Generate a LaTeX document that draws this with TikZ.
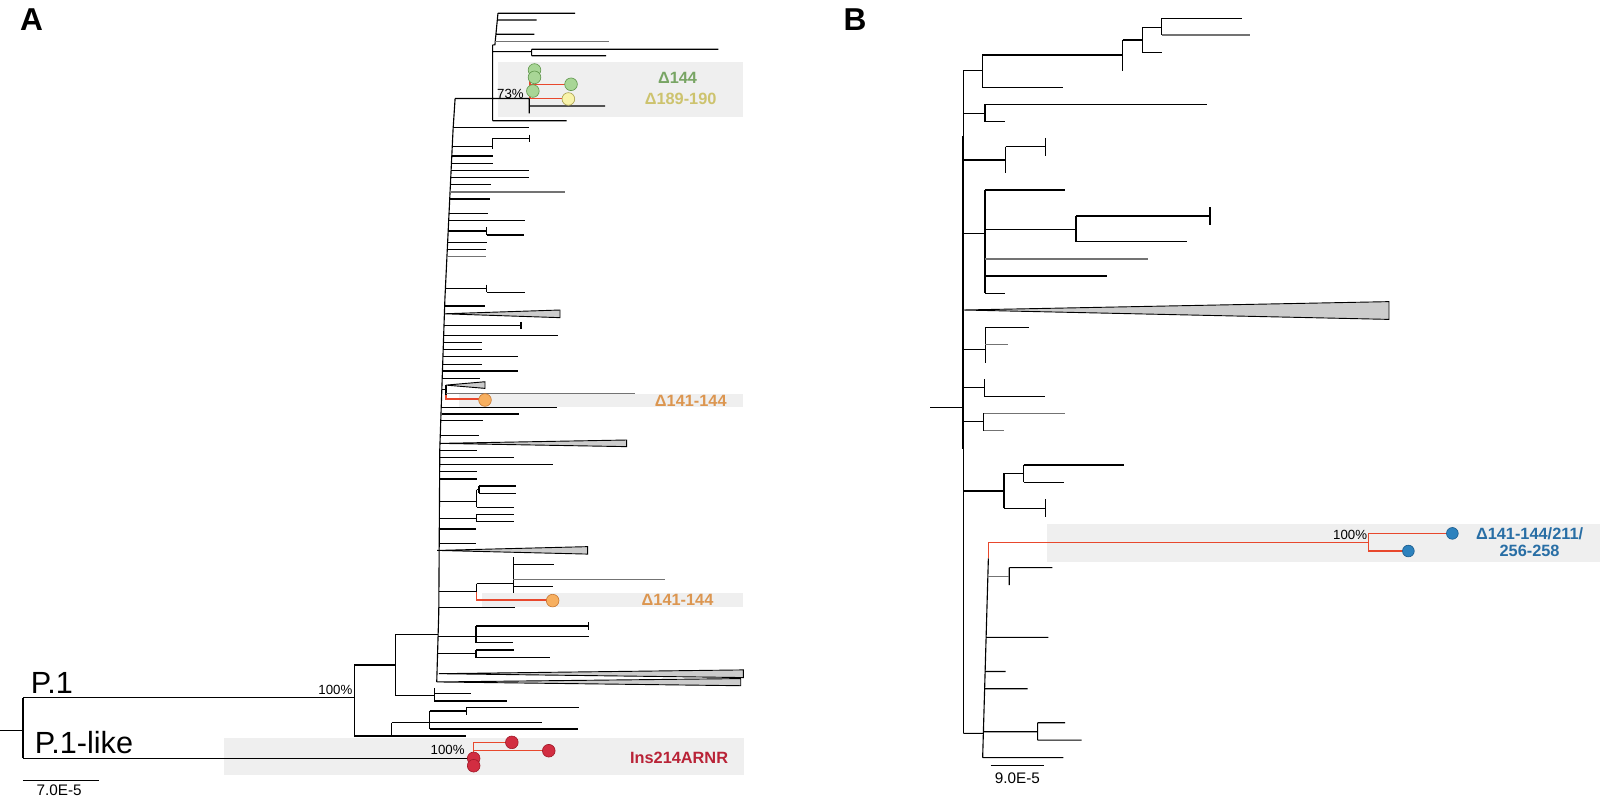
\documentclass[tikz,border=0pt]{standalone}
\usepackage{fontspec}
\setmainfont{Liberation Sans}
\definecolor{redline}{RGB}{232,72,45}
\definecolor{hlgray}{RGB}{239,239,239}
\definecolor{trifill}{RGB}{204,204,204}
\definecolor{gfill}{RGB}{168,214,150}
\definecolor{gedge}{RGB}{95,150,75}
\definecolor{gtext}{RGB}{120,165,100}
\definecolor{yfill}{RGB}{248,243,170}
\definecolor{yedge}{RGB}{170,160,80}
\definecolor{ytext}{RGB}{205,195,110}
\definecolor{ofill}{RGB}{247,175,95}
\definecolor{oedge}{RGB}{200,120,50}
\definecolor{otext}{RGB}{220,150,80}
\definecolor{rfill}{RGB}{210,45,65}
\definecolor{redge}{RGB}{160,25,40}
\definecolor{rtext}{RGB}{185,35,55}
\definecolor{bfill}{RGB}{45,130,190}
\definecolor{bedge}{RGB}{25,90,140}
\definecolor{btext}{RGB}{40,110,165}
\begin{document}
\begin{tikzpicture}[x=1pt,y=-1pt,
  br/.style={draw=black,line width=1.1pt},
  gbr/.style={draw=black!55,line width=1.1pt},
  rbr/.style={draw=redline,line width=1.1pt},
  tri/.style={draw=black,fill=trifill,line width=0.9pt},
  hl/.style={fill=hlgray},
  dot/.style={circle,inner sep=0pt,minimum size=12.4pt,line width=0.6pt},
  dotg/.style={dot,draw=gedge,fill=gfill},
  doty/.style={dot,draw=yedge,fill=yfill},
  doto/.style={dot,draw=oedge,fill=ofill},
  dotr/.style={dot,draw=redge,fill=rfill},
  dotb/.style={dot,draw=bedge,fill=bfill,minimum size=11.5pt},
  mut/.style={font=\fontsize{16}{18}\selectfont\bfseries,inner sep=0pt},
  pct/.style={font=\fontsize{13}{14}\selectfont,inner sep=0pt},
  big/.style={font=\fontsize{30}{31}\selectfont,inner sep=0pt},
  panel/.style={font=\fontsize{31}{31}\selectfont\bfseries,inner sep=0pt},
  sc/.style={font=\fontsize{15}{16}\selectfont,inner sep=0pt}]
\useasboundingbox (0,0) rectangle (1568,785);
\fill[white] (0,0) rectangle (1568,785);

% highlight boxes
\fill[hl] (487.7,60.4) rectangle (728.5,115);
\fill[hl] (450.1,386.5) rectangle (728.5,398.8);
\fill[hl] (472,581.5) rectangle (728.5,594.5);
\fill[hl] (220,723.6) rectangle (729,759.5);
\fill[hl] (1025.7,513.5) rectangle (1568,551);

% ================= Panel A =================
% basal
\draw[br] (0,716)--(22.5,716) (22.5,683.6)--(22.5,743.2) (22.5,683.6)--(347,683.6) (22.5,743.2)--(464,743.2);
\draw[br] (347,651.7)--(347,721.3) (347,651.7)--(388,651.7) (388,621.6)--(388,681.8) (388,621.6)--(429,621.6)
  (388,681.8)--(425.7,681.8) (425.7,674)--(425.7,687) (425.7,679.5)--(461.8,679.5) (425.7,687)--(497,687);
\draw[br] (347,721.3)--(457,721.3) (384,708.2)--(384,721.3) (384,708.2)--(421,708.2) (421,696.8)--(421,714.4)
  (421,696.8)--(457,696.8) (457,693.5)--(457,700.7) (457,693.5)--(567.4,693.5) (421,707.9)--(531,707.9) (421,714.4)--(566,714.4);

% backbone of main clade
\draw[br] (446,96.5)--(444,127)--(436,293)--(431,440)--(430,600)--(428,668.3);

% top group
\draw[br] (446,96.5)--(482.8,96.5) (482.8,44)--(482.8,118.3) (482.8,118.3)--(555.3,118.3)
  (482.8,44)--(485.5,44) (488,13)--(485,44) (488,13)--(563.5,13) (487.5,19.6)--(526,19.6) (486,33.6)--(523.7,33.6)
  (482.8,50.6)--(521,50.6) (521,48.3)--(521,54.6) (521,48.3)--(704,48.3) (521,54.6)--(594,54.6)
  (482.8,96.5)--(518.7,96.5) (518.7,96.5)--(518.7,111) (518.7,103.9)--(592.9,103.9);
\draw[gbr] (485,40.8)--(597.2,40.8);
\draw[rbr] (519.4,68.6)--(519.4,96.5) (519.4,82.6)--(555.3,82.6) (519.4,96.5)--(553.7,96.5);

% leaves along backbone
\draw[br] (445,124.8)--(518.7,124.8)
  (443.5,143.7)--(482.8,143.7) (482.8,135.6)--(482.8,146.3) (482.8,135.6)--(518.7,135.6) (518.7,132)--(518.7,139)
  (442.8,152.9)--(483.5,152.9) (442.4,160.1)--(483.5,160.1) (442.1,166.9)--(518.7,166.9) (441.7,174.1)--(518,174.1)
  (441.4,181)--(481.2,181) (440.7,195)--(480.2,195) (440,209)--(477.9,209) (439.7,216.3)--(514.5,216.3)
  (439.2,226.4)--(476.9,226.4) (476.9,222.5)--(476.9,230.3) (476.9,230.3)--(513.5,230.3)
  (438.7,237.5)--(476.9,237.5) (438.4,244.3)--(475.9,244.3)
  (436.5,282.6)--(476.9,282.6) (476.9,279)--(476.9,286.5) (476.9,286.5)--(514.5,286.5)
  (435.8,299.9)--(475.3,299.9)
  (435.1,318.6)--(510.6,318.6) (510.6,315.5)--(510.6,322)
  (434.8,328.6)--(547.2,328.6) (434.5,335.5)--(472.7,335.5) (434.3,342.7)--(472,342.7) (434,349.5)--(508,349.5)
  (433.8,356.8)--(472,356.8) (433.6,363.6)--(508,363.6) (433.3,370.8)--(470.4,370.8)
  (433.1,382)--(437.1,382) (437.1,377.4)--(437.1,386.9)
  (433,399.2)--(546.2,399.2) (432.8,405.7)--(509,405.7) (432.5,412.5)--(473,412.5) (431.5,426.6)--(469.7,426.6)
  (431,441.1)--(467,441.1) (430.8,448.4)--(503.7,448.4) (430.7,455)--(541.6,455) (430.6,462.2)--(467.1,462.2) (430.5,469.4)--(467.1,469.4)
  (430.3,491.6)--(467.1,491.6) (467.1,480)--(467.1,497.2) (467.1,480)--(469.4,480) (469.4,476.3)--(469.4,483.5)
  (469.4,476.3)--(505.7,476.3) (469.4,483.5)--(505.7,483.5) (467.1,497.2)--(503.7,497.2)
  (430.2,508)--(467.1,508) (467.1,504.1)--(467.1,511.2) (467.1,504.1)--(503.7,504.1) (467.1,511.2)--(503.7,511.2)
  (430,518.4)--(466.5,518.4) (430,532.5)--(466.5,532.5)
  (430,579.8)--(467.1,579.8) (467.1,572)--(467.1,579.8) (467.1,572)--(503.1,572) (503.1,546.2)--(503.1,581.5)
  (503.1,553.1)--(543.2,553.1) (503.1,574.4)--(541.6,574.4)
  (430,595.3)--(504.7,595.3)
  (429.5,623.5)--(577.2,623.5) (466.5,613.5)--(466.5,629.8) (466.5,613.5)--(576.6,613.5) (576.6,610)--(576.6,617) (466.5,629.8)--(503.1,629.8)
  (429,640.5)--(466.5,640.5) (466.5,637)--(466.5,644.5) (466.5,637)--(503.8,637) (466.5,644.5)--(539,644.5);
\draw[gbr] (441,188.1)--(553.7,188.1) (438,251.5)--(475.9,251.5) (437.1,385.5)--(622.3,385.5) (503.1,567.5)--(651.7,567.5);
\draw[rbr] (437.1,386.9)--(437.1,391)--(470,391) (467.1,579.8)--(467.1,588)--(536,588);
\draw[rbr] (464,727.5)--(464,743.2) (464,727.5)--(501.6,727.5) (464,735.7)--(537.8,735.7);

% collapsed clades
\draw[tri] (435.5,307.5)--(548.8,303.8)--(548.8,311.3)--cycle;
\draw[tri] (437.1,377.4)--(475.3,374.1)--(475.3,380.6)--cycle;
\draw[tri] (431.2,434.5)--(614.1,431.2)--(614.1,437.7)--cycle;
\draw[tri] (428.5,539.4)--(575.9,535.7)--(575.9,543)--cycle;
\draw[tri] (430,660.2)--(728.5,656.5)--(728.5,664)--cycle;
\draw[tri] (428,668.3)--(725.9,665)--(725.9,672)--cycle;

% tip circles A
\node[dotg] (g1) at (523.8,68.6) {};
\node[dotg] (g2) at (523.8,75.8) {};
\node[dotg] (g3) at (522.2,89.2) {};
\node[dotg] (g4) at (559.6,82.6) {};
\node[doty] (y1) at (557,97) {};
\node[doto] (o1) at (475.3,392) {};
\node[doto] (o2) at (541.6,588.6) {};
\node[dotr] (r1) at (501.6,727.5) {};
\node[dotr] (r2) at (537.8,735.7) {};
\node[dotr] (r3) at (464.2,743.2) {};
\node[dotr] (r4) at (464.2,750.4) {};

% labels A
\node[panel] (la) at (31,19.5) {A};
\node[mut,text=gtext] (t1) at (664,76) {Δ144};
\node[mut,text=ytext] (t2) at (667,97) {Δ189-190};
\node[mut,text=otext] (t3) at (677,392.9) {Δ141-144};
\node[mut,text=otext] (t4) at (664,588) {Δ141-144};
\node[mut,text=rtext] (t5) at (665.5,743) {Ins214ARNR};
\node[pct,anchor=east] (p1) at (513.5,92) {73\%};
\node[pct,anchor=east] (p2) at (345.5,676.5) {100\%};
\node[pct,anchor=east] (p3) at (455.5,735) {100\%};
\node[big,anchor=base west] (n1) at (30,679.5) {P.1};
\node[big,anchor=base west] (n2) at (34,738.5) {P.1-like};
\draw[br] (22.5,765)--(97.5,765);
\node[sc] (s1) at (58,774) {7.0E-5};

% ================= Panel B =================
\draw[br] (911.8,399.5)--(944,399.5) (944,69.3)--(944,718.7);
\draw[line width=1.6pt] (944,133)--(944,440);
% top clade
\draw[br] (944,69.3)--(962.7,69.3) (962.7,53.9)--(962.7,85.6) (962.7,85.6)--(1042,85.6) (962.7,53.9)--(1100.2,53.9)
  (1100.2,39.2)--(1100.2,69.3) (1100.2,39.2)--(1119.5,39.2) (1119.5,26.8)--(1119.5,51.3) (1119.5,51.3)--(1138.4,51.3)
  (1119.5,26.8)--(1138.4,26.8) (1138.4,18)--(1138.4,34.3) (1138.4,18)--(1216.8,18);
\draw[gbr] (1138.4,34.3)--(1225,34.3);
\draw[br] (944,111.1)--(965.3,111.1) (965.3,102.2)--(965.3,119.2) (965.3,102.2)--(1182.5,102.2) (965.3,119.2)--(984.9,119.2);
\draw[br] (944,156.8)--(985.5,156.8) (985.5,143.7)--(985.5,169.9) (985.5,143.7)--(1024.8,143.7) (1024.8,135)--(1024.8,153);
\draw[br] (944,228.7)--(965.3,228.7) (965.3,186.2)--(965.3,287.5) (965.3,186.2)--(1043.7,186.2)
  (965.3,224.6)--(1054.5,224.6) (1054.5,211.7)--(1054.5,236.8) (1054.5,211.7)--(1185.8,211.7) (1185.8,203.3)--(1185.8,220.5)
  (1054.5,236.8)--(1163.6,236.8) (965.3,270.5)--(1084.5,270.5) (965.3,287.5)--(984.9,287.5);
\draw[gbr] (965.3,253.8)--(1125.3,253.8);
\draw[tri] (944,303.8)--(1361.2,295.6)--(1361.2,313)--cycle;
\draw[br] (944,342.4)--(965.5,342.4) (965.5,321.1)--(965.5,355.4) (965.5,321.1)--(1008.7,321.1);
\draw[gbr] (965.5,338)--(988,338);
\draw[br] (944,379.6)--(965.1,379.6) (965.1,371.8)--(965.1,388.7) (965.1,388.7)--(1024.2,388.7);
\draw[br] (944,413.4)--(964.2,413.4) (964.2,405.1)--(964.2,422.2);
\draw[gbr] (964.2,405.1)--(1043.9,405.1) (964.2,422.2)--(983.9,422.2);
\draw[br] (944,481.2)--(983.9,481.2) (983.9,463.9)--(983.9,498.2) (983.9,463.9)--(1003.2,463.9)
  (1003.2,455.7)--(1003.2,472.7) (1003.2,455.7)--(1101.6,455.7) (1003.2,472.7)--(1043,472.7)
  (983.9,498.2)--(1024.2,498.2) (1024.2,489.4)--(1024.2,506.5);
% bottom clade
\draw[br] (944,718.7)--(963,718.7) (968.6,547.2)--(963,742.5)
  (966.7,624.6)--(1027.3,624.6) (965.8,658)--(985.6,658) (965.3,675)--(1007.1,675)
  (963.5,717.1)--(1016.9,717.1) (1016.9,708.3)--(1016.9,725.3) (1016.9,708.3)--(1043.7,708.3) (1016.9,725.3)--(1060.1,725.3)
  (963,742.5)--(1042,742.5) (989.1,556.3)--(989.1,573.3) (989.1,556.3)--(1031.3,556.3);
\draw[gbr] (968,565.1)--(989.1,565.1);
\draw[rbr] (968.6,547.2)--(968.6,531.6)--(1341,531.6) (1341,522.7)--(1341,540) (1341,522.7)--(1417.7,522.7) (1341,540)--(1375.9,540);
\node[dotb] (b1) at (1423.3,522.7) {};
\node[dotb] (b2) at (1380.2,540) {};
\node[pct,anchor=east] (p4) at (1340,524) {100\%};
\node[mut,text=btext,align=center,font=\fontsize{16}{17}\selectfont\bfseries] (t6) at (1499,531.5) {Δ141-144/211/\\256-258};
\node[panel] (lb) at (838,19.5) {B};
\draw[br] (970.9,750.3)--(1023.4,750.3);
\node[sc] (s2) at (997,762.7) {9.0E-5};
\end{tikzpicture}
\end{document}
